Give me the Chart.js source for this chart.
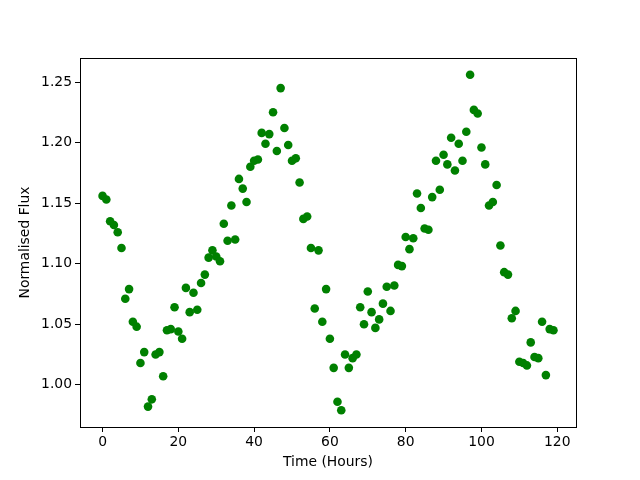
<!DOCTYPE html>
<html>
<head>
<meta charset="utf-8">
<script src="https://cdn.jsdelivr.net/npm/chart.js@4"></script>
<style>
  html, body { margin: 0; padding: 0; background: #fff; }
  #wrap { width: 640px; height: 480px; }
</style>
</head>
<body>
<div id="wrap"><canvas id="chart" width="640" height="480"></canvas></div>
<script>
// time in hours
const hours = [];
for (let h = 0; h < 120; h++) hours.push(h);

// normalised flux
const flux = [
  1.156, 1.153, 1.135, 1.132, 1.126, 1.113, 1.071, 1.079, 1.052, 1.048,
  1.018, 1.027, 0.982, 0.988, 1.025, 1.027, 1.007, 1.045, 1.046, 1.064,
  1.044, 1.038, 1.080, 1.060, 1.076, 1.062, 1.084, 1.091, 1.105, 1.111,
  1.106, 1.102, 1.133, 1.119, 1.148, 1.120, 1.170, 1.162, 1.151, 1.180,
  1.185, 1.186, 1.208, 1.199, 1.207, 1.225, 1.193, 1.245, 1.212, 1.198,
  1.185, 1.187, 1.167, 1.137, 1.139, 1.113, 1.063, 1.111, 1.052, 1.079,
  1.038, 1.014, 0.986, 0.979, 1.025, 1.014, 1.022, 1.025, 1.064, 1.050,
  1.077, 1.060, 1.047, 1.054, 1.067, 1.081, 1.061, 1.082, 1.099, 1.098,
  1.122, 1.112, 1.121, 1.158, 1.146, 1.129, 1.128, 1.155, 1.185, 1.161,
  1.190, 1.182, 1.204, 1.177, 1.199, 1.185, 1.209, 1.256, 1.227, 1.224,
  1.196, 1.182, 1.148, 1.151, 1.165, 1.115, 1.093, 1.091, 1.055, 1.061,
  1.019, 1.018, 1.016, 1.035, 1.023, 1.022, 1.052, 1.008, 1.046, 1.045
];

const xTicks = [0, 20, 40, 60, 80, 100, 120];
const yTicks = [1.00, 1.05, 1.10, 1.15, 1.20, 1.25];

const FONT = "'DejaVu Sans', sans-serif";

// matplotlib style 5% margins
const xSpan = hours[hours.length - 1] - hours[0];
const yMinData = Math.min(...flux), yMaxData = Math.max(...flux);
const ySpan = yMaxData - yMinData;

const frame = {
  id: "frame",
  afterDraw(chart) {
    const { ctx, chartArea: a } = chart;
    ctx.save();
    ctx.strokeStyle = "#000";
    ctx.lineWidth = 1;
    ctx.strokeRect(a.left + 0.5, a.top + 0.5, a.right - a.left, a.bottom - a.top);
    ctx.restore();
  }
};

new Chart(document.getElementById("chart"), {
  type: "scatter",
  data: {
    datasets: [{
      data: hours.map((h, i) => ({ x: h, y: flux[i] })),
      backgroundColor: "#008000",
      borderColor: "#008000",
      pointRadius: 4.3,
      pointHoverRadius: 4.3,
      borderWidth: 0
    }]
  },
  options: {
    responsive: false,
    animation: false,
    layout: { padding: { left: 0, top: 58, right: 64, bottom: 0 } },
    plugins: { legend: { display: false }, tooltip: { enabled: false } },
    scales: {
      x: {
        type: "linear",
        min: hours[0] - 0.05 * xSpan,
        max: hours[hours.length - 1] + 0.05 * xSpan,
        afterBuildTicks: (s) => { s.ticks = xTicks.map(v => ({ value: v })); },
        afterFit: (s) => { s.height = 53; },
        grid: { drawOnChartArea: false, drawTicks: true, tickLength: 5, tickColor: "#000" },
        border: { display: true, color: "#000" },
        ticks: { color: "#000", font: { family: FONT, size: 13.9 }, padding: 2, maxRotation: 0 },
        title: { display: true, text: "Time (Hours)", color: "#000", font: { family: FONT, size: 13.9 }, padding: { top: 3, bottom: 9 } }
      },
      y: {
        type: "linear",
        min: yMinData - 0.05 * ySpan,
        max: yMaxData + 0.05 * ySpan,
        afterBuildTicks: (s) => { s.ticks = yTicks.map(v => ({ value: v })); },
        afterFit: (s) => { s.width = 80; },
        grid: { drawOnChartArea: false, drawTicks: true, tickLength: 5, tickColor: "#000" },
        border: { display: true, color: "#000" },
        ticks: { color: "#000", font: { family: FONT, size: 13.9 }, padding: 3, callback: (v) => v.toFixed(2) },
        title: { display: true, text: "Normalised Flux", color: "#000", font: { family: FONT, size: 13.9 }, padding: { top: 17, bottom: 5 } }
      }
    }
  },
  plugins: [frame]
});
</script>
</body>
</html>
